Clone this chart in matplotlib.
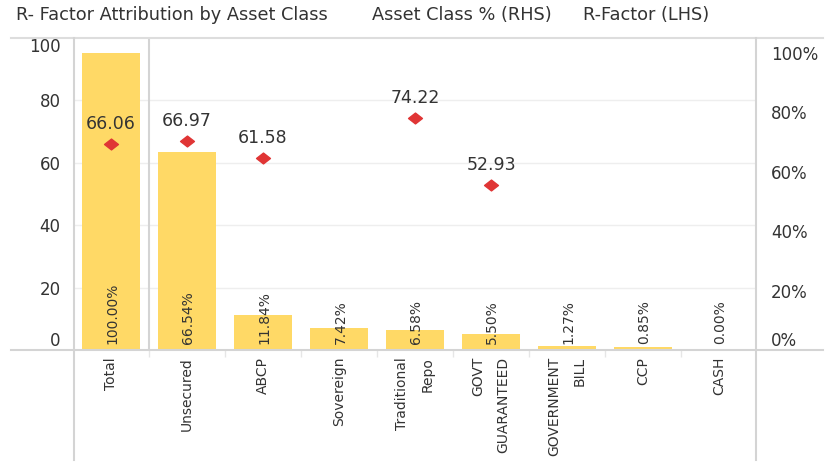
import matplotlib
matplotlib.use('Agg')
import matplotlib.pyplot as plt
from matplotlib.lines import Line2D
from matplotlib.path import Path

# data
categories = ['Total', 'Unsecured', 'ABCP', 'Sovereign', 'Traditional\nRepo',
              'GOVT\nGUARANTEED', 'GOVERNMENT\nBILL', 'CCP', 'CASH']
asset_pct = [100.00, 66.54, 11.84, 7.42, 6.58, 5.50, 1.27, 0.85, 0.00]
rfactor = [66.06, 66.97, 61.58, None, 74.22, 52.93, None, None, None]

W, H = 831, 462
L, R, B, T = 73, 757, 350, 38

bar_color = '#FFD966'
red = '#E03535'
txt = '#333333'
line_grey = '#d4d4d4'

plt.rcParams['font.family'] = 'DejaVu Sans'

fig = plt.figure(figsize=(W / 100, H / 100), dpi=100)
ax = fig.add_axes([L / W, 1 - B / H, (R - L) / W, (B - T) / H])
ax2 = ax.twinx()

x = list(range(len(categories)))

# grid on the left axis (below the bars)
for v in [20, 40, 60, 80]:
    ax.axhline(v, color='#eeeeee', lw=1, zorder=0)
ax.axvline(0.5, color=line_grey, lw=1.5, zorder=1)

# bars on right axis
ax2.bar(x, asset_pct, width=0.76, color=bar_color, zorder=2)
for xi, p in zip(x, asset_pct):
    ax2.annotate(f'{p:.2f}%', (xi, 0), xytext=(1, 4), textcoords='offset points',
                 ha='center', va='bottom', rotation=90, fontsize=10, color=txt)

# diamonds on left axis scale
diamond = Path([(-1, 0), (0, 0.78), (1, 0), (0, -0.78), (-1, 0)],
               [Path.MOVETO, Path.LINETO, Path.LINETO, Path.LINETO, Path.CLOSEPOLY])
rx = [xi for xi, v in zip(x, rfactor) if v is not None]
ry = [v for v in rfactor if v is not None]
ax2.plot(rx, ry, linestyle='none', marker=diamond, markersize=10, color=red,
         transform=ax.transData, zorder=3)
for xi, v in zip(rx, ry):
    ax2.annotate(f'{v:.2f}', (xi, v), xycoords=ax.transData, xytext=(0, 14.5),
                 textcoords='offset points', ha='center', va='center',
                 fontsize=12.5, color=txt)

ax.set_xlim(-0.5, len(categories) - 0.5)
ax.set_ylim(0, 100)
ax2.set_ylim(0, 105)

for a in (ax, ax2):
    for s in a.spines.values():
        s.set_visible(False)

# x labels
ax.set_xticks(x)
ax.set_xticklabels(categories, rotation=90, fontsize=10, color=txt,
                   va='top', ha='center', multialignment='right', linespacing=2.0)
ax.set_xticks([i + 0.5 for i in range(len(categories) - 1)], minor=True)
ax.tick_params(axis='x', which='major', length=0, pad=5)
ax.tick_params(axis='x', which='minor', length=5, width=1, color='#e6e6e6')

# left y labels
ax.set_yticks([0, 20, 40, 60, 80, 100])
ax.set_yticklabels(['0', '20', '40', '60', '80', '100'], fontsize=12, color=txt)
ax.tick_params(axis='y', length=0, pad=9)
lab = ax.get_yticklabels()
lab[0].set_va('bottom')
lab[-1].set_va('top')

# right y labels
ax2.set_yticks([0, 20, 40, 60, 80, 100])
ax2.set_yticklabels(['0%', '20%', '40%', '60%', '80%', '100%'], fontsize=12, color=txt)
ax2.tick_params(axis='y', length=0, pad=10)
ax2.get_yticklabels()[0].set_va('bottom')


def fline(x0, y0, x1, y1, **kw):
    fig.add_artist(Line2D([x0 / W, x1 / W], [1 - y0 / H, 1 - y1 / H],
                          transform=fig.transFigure, **kw))


fline(11, T, 823, T, color='#dddddd', lw=1.5)
fline(11, B, 823, B, color=line_grey, lw=1.5)
fline(L + 1, T, L + 1, 460, color=line_grey, lw=1.5)
fline(R - 1, T, R - 1, 460, color=line_grey, lw=1.5)

# header "legend" text
fig.text(16 / W, 1 - 15 / H, 'R- Factor Attribution by Asset Class', fontsize=12.8,
         color=txt, va='center')
fig.text(372 / W, 1 - 15 / H, 'Asset Class % (RHS)', fontsize=12.8, color=txt, va='center')
fig.text(583 / W, 1 - 15 / H, 'R-Factor (LHS)', fontsize=12.8, color=txt, va='center')

fig.savefig('out.png', dpi=100, facecolor='white')
